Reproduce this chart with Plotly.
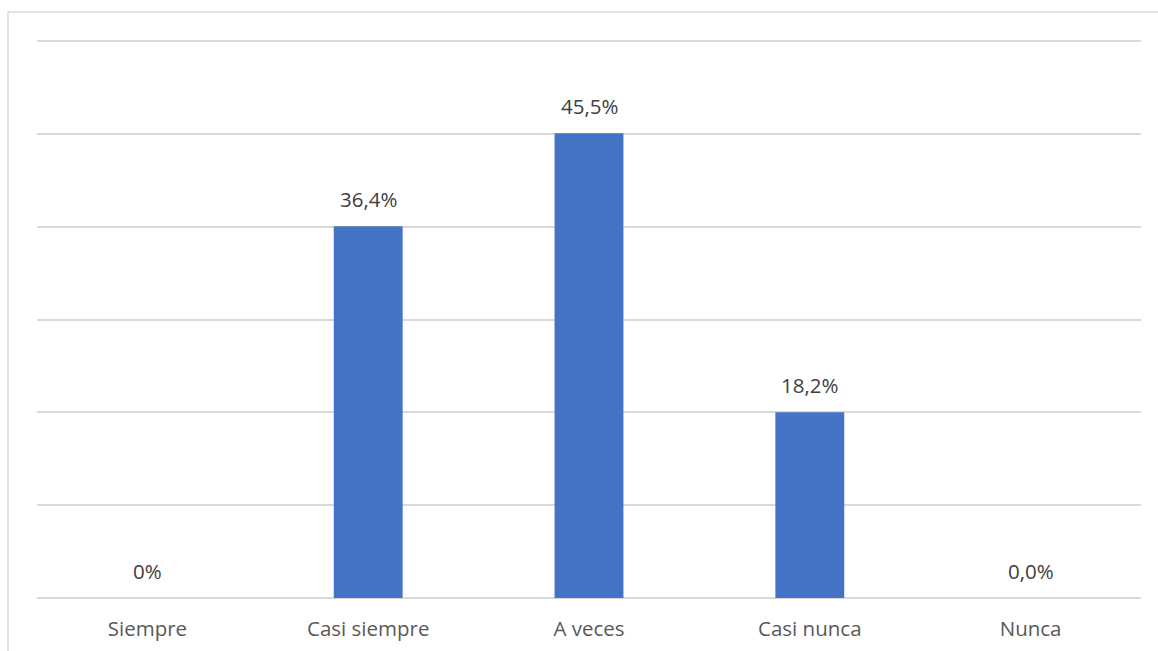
import plotly.graph_objects as go

# Survey responses: share of respondents per frequency option (%)
categories = ["Siempre", "Casi siempre", "A veces", "Casi nunca", "Nunca"]
values = [0.0, 36.4, 45.5, 18.2, 0.0]
value_labels = ["0%", "36,4%", "45,5%", "18,2%", "0,0%"]

W, H = 1158, 651
m_left, m_right, m_top, m_bottom = 37, 17, 37, 53
plot_w = W - m_left - m_right
plot_h = H - m_top - m_bottom

font_family = "Open Sans, Liberation Sans, sans-serif"
font_size = 20.5

step = 100 / 11
grid_px = 557  # pixel height from baseline to the top gridline
y_top = 6 * step * (plot_h / grid_px)  # headroom so the top gridline is drawn

fig = go.Figure(
    go.Bar(
        x=categories,
        y=values,
        marker=dict(color="#4472C4", line=dict(width=0)),
        hoverinfo="skip",
    )
)

# Value labels above each bar
for cat, val, lab in zip(categories, values, value_labels):
    fig.add_annotation(
        x=cat, y=val, text=lab, showarrow=False,
        xref="x", yref="y", yanchor="middle", yshift=27,
        font=dict(family=font_family, size=font_size, color="#404040"),
    )

# Light frame around the whole chart area
fig.add_shape(
    type="rect", xref="paper", yref="paper",
    x0=(8 - m_left) / plot_w, x1=(W + 5 - m_left) / plot_w,
    y0=-(H + 5 - (H - m_bottom)) / plot_h, y1=1 + (m_top - 12) / plot_h,
    line=dict(color="#D9D9D9", width=1.5), fillcolor="rgba(0,0,0,0)",
    layer="below",
)

fig.update_layout(
    width=W, height=H,
    margin=dict(l=m_left, r=m_right, t=m_top, b=m_bottom, pad=0, autoexpand=False),
    paper_bgcolor="white", plot_bgcolor="white",
    bargap=0.688,
    showlegend=False,
    font=dict(family=font_family, size=font_size, color="#595959"),
    xaxis=dict(
        showgrid=False, showline=False, zeroline=False,
        ticks="", ticklabelstandoff=16, automargin=False,
        tickfont=dict(family=font_family, size=font_size, color="#595959"),
        fixedrange=True,
    ),
    yaxis=dict(
        range=[0, y_top], dtick=step, tick0=0,
        showgrid=True, gridcolor="#D9D9D9", gridwidth=1.5,
        zeroline=True, zerolinecolor="#D9D9D9", zerolinewidth=1.5,
        showticklabels=False, ticks="", showline=False, automargin=False,
        fixedrange=True,
    ),
)

fig.write_html("out.html", config={"displayModeBar": False})
